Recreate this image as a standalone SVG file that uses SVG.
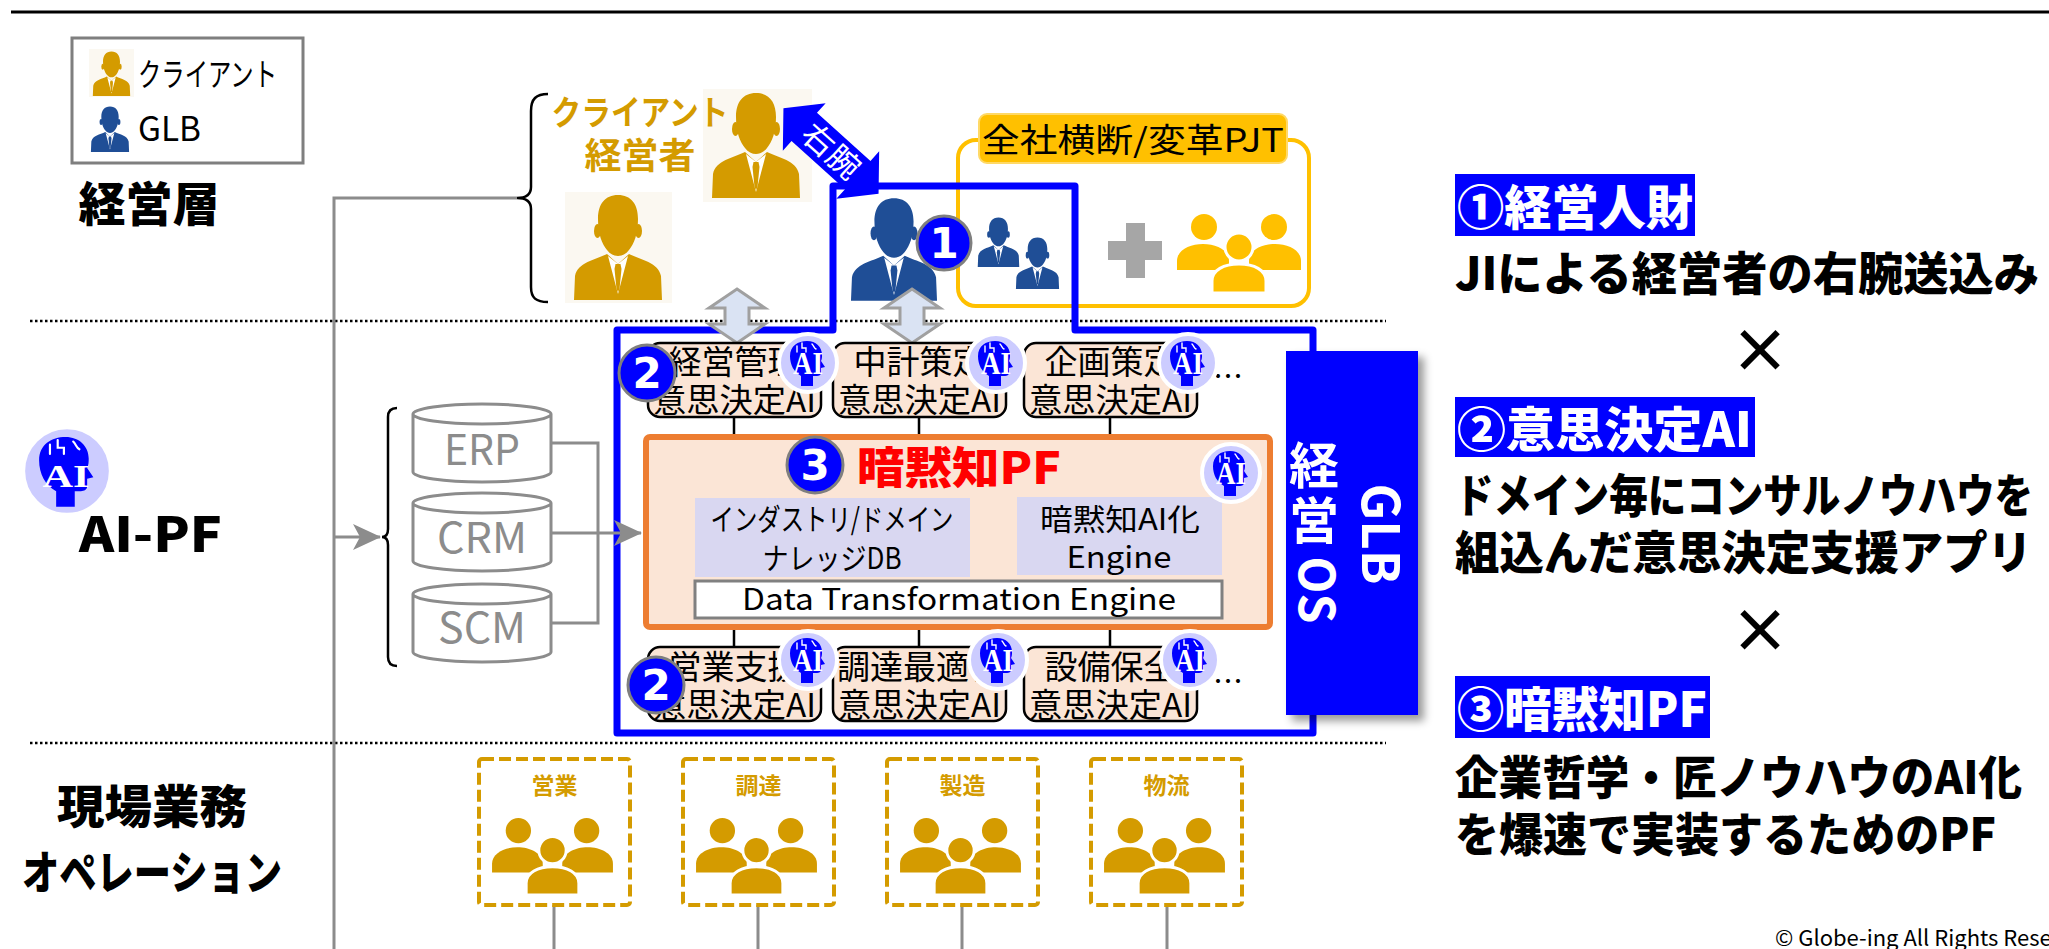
<svg xmlns="http://www.w3.org/2000/svg" width="2049" height="949" viewBox="0 0 2049 949">
<defs>
<style>
text{font-family:"Noto Sans CJK JP","Noto Sans",sans-serif;}
.b{font-weight:700;}
.h{font-weight:900;}
.c{text-anchor:middle;}
.ora{fill:#D49B00;}
.wh{fill:#fff;}
.dec{fill:#FBE5D6;stroke:#000;stroke-width:2.5;}
.lav{fill:#D9D7F1;}
.db{fill:#fff;stroke:#8C8C8C;stroke-width:3;}
.dbt{fill:#8C8C8C;font-size:42px;text-anchor:middle;}
.gl{fill:none;stroke:#8C8C8C;stroke-width:3;}
.bl{fill:none;stroke:#000;stroke-width:2.5;}
.dot{fill:none;stroke:#000;stroke-width:2.5;stroke-dasharray:2.5 2.5;}
.badge{fill:#0000FF;stroke:#7F7F7F;stroke-width:3;}
.bt{font-family:"DejaVu Sans",sans-serif;font-weight:700;font-size:42px;fill:#fff;text-anchor:middle;}
.dash{fill:#fff;stroke:#D49B00;stroke-width:4;stroke-dasharray:12 5;}
.ait{font-family:"Liberation Serif",serif;font-weight:700;font-size:32px;fill:#fff;text-anchor:middle;}
.ud{fill:#DAE3F3;stroke:#A0A0A0;stroke-width:3;stroke-linejoin:miter;}
.lbl{fill:#0000FF;}
.rt{font-weight:900;font-size:46px;fill:#000;}
.nt{font-size:33px;fill:#000;text-anchor:middle;}
.cream{fill:#FBF8F1;}
</style>
<symbol id="person" viewBox="0 0 90 106">
  <ellipse cx="24.5" cy="37" rx="3.5" ry="7"/>
  <ellipse cx="65.5" cy="37" rx="3.5" ry="7"/>
  <path d="M45,1 C32,1 25,10 25,25 C25,40 29,50 34,56 C37,60 41,62 45,62 C49,62 53,60 56,56 C61,50 65,40 65,25 C65,10 58,1 45,1 Z"/>
  <path d="M34,60 C22,66 5,68 2,82 L1,106 L89,106 L88,82 C85,68 68,66 56,60 L45,70 Z"/>
  <path d="M35,62 L45,100 L55,62 L45,70 Z" fill="#fff"/>
  <path d="M42.5,70 L47.5,70 L48.5,75 L46.5,95 L45,98 L43.5,95 L41.5,75 Z"/>
</symbol>
<symbol id="group" viewBox="0 0 124 80">
  <circle cx="27" cy="14" r="13"/>
  <circle cx="97" cy="14" r="13"/>
  <path d="M0,57 V48 C0,37 13,31 26,31 C39,31 52,37 52,48 V57 Z"/>
  <path d="M72,57 V48 C72,37 85,31 98,31 C111,31 124,37 124,48 V57 Z"/>
  <circle cx="62" cy="34" r="14" stroke="#fff" stroke-width="3"/>
  <path d="M35,80 V68 C35,57 47,51 62,51 C77,51 89,57 89,68 V80 Z" stroke="#fff" stroke-width="3"/>
</symbol>
<g id="aiIcon">
  <circle r="29" fill="#CCCCFF" stroke="#fff" stroke-width="4"/>
  <path d="M-7,23 V13 C-14,9 -18,2 -18,-7 C-18,-17 -10,-22 -1,-22 C8,-22 14,-16 14,-8 C14,-6 14,-4 13,-2 L17,4 L13,5 V10 C13,12 11,13 9,13 H5 V23 Z" fill="#0000FF"/>
  <path d="M-11,-17 V-11 M-6,-20 V-15 H-2 V-11 M4,-19 C6,-17 6,-15 8,-14" fill="none" stroke="#fff" stroke-width="1.4" stroke-linecap="round"/>
</g>
<marker id="ah" markerUnits="userSpaceOnUse" viewBox="0 0 30 26" markerWidth="30" markerHeight="26" refX="27" refY="13" orient="auto">
  <path d="M0,0 L28,13 L0,26 L7,13 Z" fill="#8C8C8C"/>
</marker>
<filter id="sh" x="-20%" y="-10%" width="150%" height="130%">
  <feDropShadow dx="6" dy="6" stdDeviation="4" flood-color="#000" flood-opacity="0.4"/>
</filter>
</defs>

<rect width="2049" height="949" fill="#fff"/>

<!-- header rule and layer separators -->
<line x1="11" y1="12" x2="2049" y2="12" stroke="#000" stroke-width="3"/>
<line class="dot" x1="30" y1="321" x2="1386" y2="321"/>
<line class="dot" x1="30" y1="743" x2="1386" y2="743"/>

<!-- legend -->
<g id="legend">
  <rect x="72" y="38" width="231" height="125" fill="#fff" stroke="#7F7F7F" stroke-width="3"/>
  <rect class="cream" x="89" y="49" width="45" height="48"/>
  <use href="#person" x="92" y="51" width="39" height="45" fill="#D49B00"/>
  <text x="138" y="86" font-size="32" textLength="139" lengthAdjust="spacingAndGlyphs">クライアント</text>
  <use href="#person" x="90" y="106" width="40" height="46" fill="#1F4E96"/>
  <text x="138" y="141" font-size="34" textLength="63" lengthAdjust="spacingAndGlyphs">GLB</text>
</g>

<!-- layer titles -->
<g id="layer-titles">
  <text class="h c" x="149" y="221" font-size="47" textLength="141" lengthAdjust="spacingAndGlyphs">経営層</text>
  <g transform="translate(67,471) scale(1.55)"><use href="#aiIcon"/></g>
  <text class="ait" x="66" y="487" font-size="44" textLength="47" lengthAdjust="spacingAndGlyphs">AI</text>
  <text class="h" x="79" y="552" font-size="48" textLength="143" lengthAdjust="spacingAndGlyphs">AI-PF</text>
  <text class="h c" x="152" y="823" font-size="46" textLength="190" lengthAdjust="spacingAndGlyphs">現場業務</text>
  <text class="h c" x="152" y="889" font-size="46" textLength="260" lengthAdjust="spacingAndGlyphs">オペレーション</text>
</g>

<!-- client executives -->
<g id="client-exec">
  <rect class="cream" x="703" y="89" width="109" height="113"/>
  <use href="#person" x="711" y="92" width="90" height="106" fill="#D49B00"/>
  <rect class="cream" x="565" y="192" width="107" height="111"/>
  <use href="#person" x="573" y="194" width="90" height="106" fill="#D49B00"/>
  <text class="b c ora" x="640" y="125" font-size="34" textLength="177" lengthAdjust="spacingAndGlyphs">クライアント</text>
  <text class="b c ora" x="640" y="169" font-size="36" textLength="111" lengthAdjust="spacingAndGlyphs">経営者</text>
</g>

<!-- company-wide transformation project -->
<g id="pjt">
  <rect x="958" y="140" width="351" height="166" rx="18" fill="none" stroke="#FFC000" stroke-width="4"/>
  <rect x="979" y="114" width="308" height="49" rx="8" fill="#FFC000" stroke="#FFD966" stroke-width="2"/>
  <text class="c" x="1133" y="152" font-size="33" textLength="302" lengthAdjust="spacingAndGlyphs">全社横断/変革PJT</text>
  <path d="M1126,223 h19 v18 h17 v19 h-17 v18 h-19 v-18 h-18 v-19 h18 Z" fill="#A6A6A6"/>
  <use href="#group" x="1177" y="213" width="124" height="80" fill="#FFC000"/>
</g>

<!-- GLB management OS frame -->
<g id="glb-frame">
  <path d="M833,186 H1075 V330 H1313 V733 H617 V330 H833 Z" fill="none" stroke="#0000FF" stroke-width="7" stroke-linejoin="round"/>
</g>

<g id="glb-talent">
  <use href="#person" x="850" y="197" width="88" height="104" fill="#1F4E96"/>
  <use href="#person" x="977" y="217" width="43" height="50" fill="#1F4E96"/>
  <use href="#person" x="1015" y="237" width="45" height="52" fill="#1F4E96"/>
  <circle class="badge" cx="944" cy="243" r="27"/>
  <text class="bt" x="944" y="258">1</text>
</g>

<!-- connectors -->
<g id="connectors">
  <path class="gl" d="M334,949 V198 H517"/>
  <path class="bl" d="M548,94 C536,94 531,99 531,111 L531,187 C531,194 526,198 517,198 C526,198 531,202 531,209 L531,287 C531,298 536,302 548,302"/>
  <path class="gl" d="M334,537 H380" marker-end="url(#ah)"/>
  <path class="bl" d="M397,408 C391,408 388,411 388,417 L388,529 C388,534 386,537 382,537 C386,537 388,540 388,545 L388,657 C388,663 391,666 397,666"/>
  <path class="gl" d="M551,443 H598 V623 H551"/>
  <path class="gl" d="M551,533 H641" marker-end="url(#ah)"/>
  <path class="gl" d="M554,905 V949 M758,905 V949 M962,905 V949 M1167,905 V949"/>
  <path class="bl" d="M734,417 V435 M919,417 V435 M1110,417 V435 M734,630 V647 M919,630 V647 M1110,630 V647"/>
  <path class="ud" d="M737,289 L765,308 L749,308 L749,324 L765,324 L737,343 L709,324 L725,324 L725,308 L709,308 Z"/>
  <path class="ud" d="M912,289 L940,308 L924,308 L924,324 L940,324 L912,343 L884,324 L900,324 L900,308 L884,308 Z"/>
  <g id="right-arm" transform="translate(831,151) rotate(42)">
    <path d="M-64,0 L-36,-32 L-36,-19 L36,-19 L36,-32 L64,0 L36,32 L36,19 L-36,19 L-36,32 Z" fill="#0000FF"/>
    <text class="c wh" x="0" y="11" font-size="31" textLength="66" lengthAdjust="spacingAndGlyphs">右腕</text>
  </g>
</g>

<!-- data sources -->
<g id="db-erp">
  <path class="db" d="M413,414 V472 A69,10 0 0 0 551,472 V414 A69,10 0 0 0 413,414 Z M413,414 A69,10 0 0 0 551,414"/>
  <text class="dbt" x="482" y="465" textLength="76" lengthAdjust="spacingAndGlyphs">ERP</text>
</g>
<g id="db-crm">
  <path class="db" d="M413,503 V561 A69,10 0 0 0 551,561 V503 A69,10 0 0 0 413,503 Z M413,503 A69,10 0 0 0 551,503"/>
  <text class="dbt" x="482" y="553" textLength="90" lengthAdjust="spacingAndGlyphs">CRM</text>
</g>
<g id="db-scm">
  <path class="db" d="M413,594 V652 A69,10 0 0 0 551,652 V594 A69,10 0 0 0 413,594 Z M413,594 A69,10 0 0 0 551,594"/>
  <text class="dbt" x="482" y="643" textLength="88" lengthAdjust="spacingAndGlyphs">SCM</text>
</g>

<!-- decision AI apps, upper row -->
<g id="dai-mgmt">
  <rect class="dec" x="648" y="343" width="173" height="74" rx="12"/>
  <text class="nt" x="734.5" y="374">経営管理</text>
  <text class="nt" x="734.5" y="412" textLength="163" lengthAdjust="spacingAndGlyphs">意思決定AI</text>
</g>
<g id="dai-midterm">
  <rect class="dec" x="833" y="343" width="173" height="74" rx="12"/>
  <text class="nt" x="919.5" y="374">中計策定</text>
  <text class="nt" x="919.5" y="412" textLength="163" lengthAdjust="spacingAndGlyphs">意思決定AI</text>
</g>
<g id="dai-planning">
  <rect class="dec" x="1024" y="343" width="173" height="74" rx="12"/>
  <text class="nt" x="1110.5" y="374">企画策定</text>
  <text class="nt" x="1110.5" y="412" textLength="163" lengthAdjust="spacingAndGlyphs">意思決定AI</text>
</g>
<text x="1213" y="387" font-family="Liberation Sans" font-size="30">…</text>

<!-- tacit knowledge platform -->
<g id="tacit-pf">
  <rect x="646" y="437" width="624" height="190" rx="4" fill="#FBE5D6" stroke="#ED7D31" stroke-width="6"/>
  <text class="h c" x="959" y="484" font-size="44" fill="#FF0000" textLength="204" lengthAdjust="spacingAndGlyphs">暗黙知PF</text>
  <rect class="lav" x="695" y="498" width="275" height="79"/>
  <text class="c" x="832" y="530" font-size="30" textLength="243" lengthAdjust="spacingAndGlyphs">インダストリ/ドメイン</text>
  <text class="c" x="832" y="569" font-size="30" textLength="139" lengthAdjust="spacingAndGlyphs">ナレッジDB</text>
  <rect class="lav" x="1017" y="497" width="205" height="78"/>
  <text class="c" x="1120" y="530" font-size="30" textLength="160" lengthAdjust="spacingAndGlyphs">暗黙知AI化</text>
  <text class="c" x="1119" y="568" font-size="30" textLength="105" lengthAdjust="spacingAndGlyphs">Engine</text>
  <rect x="695" y="581" width="527" height="37" fill="#fff" stroke="#808080" stroke-width="3"/>
  <text class="c" x="959" y="610" font-size="30" textLength="434" lengthAdjust="spacingAndGlyphs">Data Transformation Engine</text>
  <circle class="badge" cx="815" cy="465" r="28"/>
  <text class="bt" x="815" y="480">3</text>
  <g transform="translate(1231,473)"><use href="#aiIcon"/></g>
  <text class="ait" x="1231" y="484" textLength="30" lengthAdjust="spacingAndGlyphs">AI</text>
</g>

<!-- decision AI apps, lower row -->
<g id="dai-sales">
  <rect class="dec" x="648" y="647" width="173" height="74" rx="12"/>
  <text class="nt" x="734.5" y="679">営業支援</text>
  <text class="nt" x="734.5" y="717" textLength="163" lengthAdjust="spacingAndGlyphs">意思決定AI</text>
</g>
<g id="dai-procure">
  <rect class="dec" x="833" y="647" width="173" height="74" rx="12"/>
  <text class="nt" x="919.5" y="679">調達最適化</text>
  <text class="nt" x="919.5" y="717" textLength="163" lengthAdjust="spacingAndGlyphs">意思決定AI</text>
</g>
<g id="dai-maint">
  <rect class="dec" x="1024" y="647" width="173" height="74" rx="12"/>
  <text class="nt" x="1110.5" y="679">設備保全</text>
  <text class="nt" x="1110.5" y="717" textLength="163" lengthAdjust="spacingAndGlyphs">意思決定AI</text>
</g>
<text x="1213" y="692" font-family="Liberation Sans" font-size="30">…</text>

<!-- AI markers and step badges on the apps -->
<g id="ai-marks">
  <g transform="translate(808,363)"><use href="#aiIcon"/></g>
  <text class="ait" x="808" y="374" textLength="30" lengthAdjust="spacingAndGlyphs">AI</text>
  <g transform="translate(996,363)"><use href="#aiIcon"/></g>
  <text class="ait" x="996" y="374" textLength="30" lengthAdjust="spacingAndGlyphs">AI</text>
  <g transform="translate(1188,363)"><use href="#aiIcon"/></g>
  <text class="ait" x="1188" y="374" textLength="30" lengthAdjust="spacingAndGlyphs">AI</text>
  <g transform="translate(808,660)"><use href="#aiIcon"/></g>
  <text class="ait" x="808" y="671" textLength="30" lengthAdjust="spacingAndGlyphs">AI</text>
  <g transform="translate(998,660)"><use href="#aiIcon"/></g>
  <text class="ait" x="998" y="671" textLength="30" lengthAdjust="spacingAndGlyphs">AI</text>
  <g transform="translate(1190,660)"><use href="#aiIcon"/></g>
  <text class="ait" x="1190" y="671" textLength="30" lengthAdjust="spacingAndGlyphs">AI</text>
  <circle class="badge" cx="647" cy="373" r="28"/>
  <text class="bt" x="647" y="388">2</text>
  <circle class="badge" cx="656" cy="685" r="28"/>
  <text class="bt" x="656" y="700">2</text>
</g>

<!-- GLB management OS banner -->
<g id="glb-os">
  <rect x="1286" y="351" width="132" height="364" fill="#0000FF" filter="url(#sh)"/>
  <text class="b wh" x="0" y="0" font-family="Liberation Sans" font-size="51" text-anchor="middle" transform="translate(1362,534) rotate(90)">GLB</text>
  <text class="b c wh" x="1314" y="484" font-size="50">経</text>
  <text class="b c wh" x="1314" y="539" font-size="50">営</text>
  <text class="b wh" x="0" y="0" font-family="Liberation Sans" font-size="48" text-anchor="middle" transform="translate(1299,590) rotate(90)">OS</text>
</g>

<!-- field operations -->
<g id="ops-sales">
  <rect class="dash" x="479" y="759" width="151" height="146" rx="3"/>
  <text class="b c ora" x="554.5" y="794" font-size="23">営業</text>
  <use href="#group" x="491" y="817" width="123" height="78" fill="#D49B00"/>
</g>
<g id="ops-procure">
  <rect class="dash" x="683" y="759" width="151" height="146" rx="3"/>
  <text class="b c ora" x="758.5" y="794" font-size="23">調達</text>
  <use href="#group" x="695" y="817" width="123" height="78" fill="#D49B00"/>
</g>
<g id="ops-mfg">
  <rect class="dash" x="887" y="759" width="151" height="146" rx="3"/>
  <text class="b c ora" x="962.5" y="794" font-size="23">製造</text>
  <use href="#group" x="899" y="817" width="123" height="78" fill="#D49B00"/>
</g>
<g id="ops-logi">
  <rect class="dash" x="1091" y="759" width="151" height="146" rx="3"/>
  <text class="b c ora" x="1166.5" y="794" font-size="23">物流</text>
  <use href="#group" x="1103" y="817" width="123" height="78" fill="#D49B00"/>
</g>

<!-- summary panel -->
<g id="summary">
  <rect class="lbl" x="1455" y="174" width="240" height="62"/>
  <text class="h wh" x="1457" y="225" font-size="48" textLength="236" lengthAdjust="spacingAndGlyphs">①経営人財</text>
  <text class="rt" x="1455" y="290" textLength="584" lengthAdjust="spacingAndGlyphs">JIによる経営者の右腕送込み</text>
  <text class="b c" x="1760" y="373" font-size="60">×</text>
  <rect class="lbl" x="1455" y="397" width="300" height="60"/>
  <text class="h wh" x="1457" y="447" font-size="48" textLength="295" lengthAdjust="spacingAndGlyphs">②意思決定AI</text>
  <text class="rt" x="1455" y="512" textLength="578" lengthAdjust="spacingAndGlyphs">ドメイン毎にコンサルノウハウを</text>
  <text class="rt" x="1455" y="569" textLength="577" lengthAdjust="spacingAndGlyphs">組込んだ意思決定支援アプリ</text>
  <text class="b c" x="1760" y="653" font-size="60">×</text>
  <rect class="lbl" x="1455" y="676" width="255" height="62"/>
  <text class="h wh" x="1457" y="727" font-size="48" textLength="250" lengthAdjust="spacingAndGlyphs">③暗黙知PF</text>
  <text class="rt" x="1455" y="794" textLength="567" lengthAdjust="spacingAndGlyphs">企業哲学・匠ノウハウのAI化</text>
  <text class="rt" x="1455" y="851" textLength="541" lengthAdjust="spacingAndGlyphs">を爆速で実装するためのPF</text>
</g>

<text x="1775" y="946" font-family="Liberation Sans" font-size="22">© Globe-ing All Rights Reserved</text>
</svg>
